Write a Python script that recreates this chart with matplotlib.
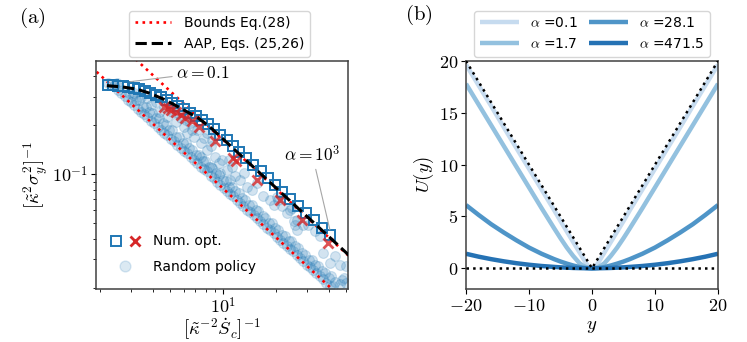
import numpy as np
import matplotlib
matplotlib.use("Agg")
import matplotlib.pyplot as plt
from matplotlib.lines import Line2D
from matplotlib.legend_handler import HandlerTuple
from matplotlib.ticker import FuncFormatter, NullFormatter, FixedLocator

plt.rcParams['font.family'] = ['DejaVu Sans']
plt.rcParams['mathtext.fontset'] = 'cm'

# ---------------- panel (a) data ----------------
aap_x = [2.2, 2.67, 3.25, 3.83, 4.65, 5.35, 6.22, 7.22, 8.41, 10, 12.5, 15, 20, 25, 30, 40, 52]
aap_y = [0.350, 0.344, 0.333, 0.315, 0.288, 0.266, 0.243, 0.222, 0.196, 0.165, 0.132,
         0.110, 0.0825, 0.066, 0.055, 0.0413, 0.0317]

bound_hi_x = [3.0, 56.0]
bound_hi_y = [0.543, 0.0291]
bound_lo_x = [1.8, 45.0]
bound_lo_y = [0.455, 0.0182]

sq_x = [2.24, 2.39, 2.55, 2.72, 2.91, 3.12, 3.35, 3.60, 3.87, 4.16, 4.47, 4.81, 5.18, 5.58,
        6.02, 6.50, 7.02, 7.59, 8.21, 8.90, 9.65, 10.5, 11.4, 12.4, 13.6, 14.9, 16.4, 18.0,
        19.8, 21.8, 24.1, 26.6, 29.5, 32.7, 36.3, 40.3]
sq_y = [0.352, 0.351, 0.349, 0.346, 0.342, 0.338, 0.332, 0.325, 0.316, 0.307, 0.297, 0.286,
        0.274, 0.262, 0.250, 0.238, 0.227, 0.215, 0.203, 0.189, 0.175, 0.162, 0.149, 0.137,
        0.125, 0.114, 0.104, 0.0945, 0.0860, 0.0780, 0.0705, 0.0640, 0.0577, 0.0520,
        0.0469, 0.0422]

cr_x = [4.63, 4.88, 5.07, 5.41, 5.78, 6.08, 6.73, 7.33, 8.98, 11.5, 11.9, 15.6, 21.1, 28.0, 39.6]
cr_y = [0.260, 0.255, 0.248, 0.241, 0.231, 0.221, 0.212, 0.194, 0.161, 0.125, 0.121,
        0.0923, 0.0695, 0.0524, 0.0378]

# random policies: dense band above lower bound
band_x = [2.43, 2.50, 2.65, 2.58, 2.89, 2.95, 3.15, 3.22, 3.08, 3.43, 3.52, 3.36, 3.74, 3.84,
          3.66, 4.08, 4.20, 3.98, 4.45, 4.58, 4.36, 4.85, 4.98, 4.74, 5.29, 5.44, 5.17, 5.77,
          5.93, 5.64, 6.29, 6.46, 6.15, 6.86, 7.05, 6.71, 7.48, 7.69, 7.31, 8.16, 8.39, 7.98,
          8.90, 9.15, 8.70, 9.70, 9.97, 9.48, 10.6, 10.9, 10.4, 11.5, 11.8, 11.3, 12.6, 12.9,
          12.3, 13.7, 14.1, 13.4, 15.0, 15.4, 14.7, 16.3, 16.8, 15.9, 17.8, 18.3, 17.4, 19.4,
          19.9, 19.0, 21.1, 21.7, 20.6, 23.1, 23.7, 22.6, 25.1, 25.8, 24.5, 27.4, 28.2, 26.8,
          29.9, 30.7, 29.2, 32.6, 33.5, 31.9, 35.6, 36.6, 34.8, 38.7, 39.8, 37.8, 42.3, 43.5,
          41.3, 46.1, 47.4, 50.2, 49.0]
band_y = [0.347, 0.365, 0.314, 0.345, 0.286, 0.314, 0.267, 0.286, 0.306, 0.242, 0.260,
          0.286, 0.226, 0.242, 0.260, 0.206, 0.221, 0.237, 0.187, 0.206, 0.221, 0.174, 0.187,
          0.201, 0.159, 0.170, 0.187, 0.145, 0.155, 0.170, 0.135, 0.145, 0.155, 0.123, 0.131,
          0.141, 0.111, 0.120, 0.131, 0.104, 0.111, 0.120, 0.0945, 0.101, 0.109, 0.0860,
          0.0923, 0.0990, 0.0783, 0.0840, 0.0902, 0.0730, 0.0783, 0.0840, 0.0664, 0.0713,
          0.0764, 0.0604, 0.0649, 0.0696, 0.0563, 0.0604, 0.0649, 0.0512, 0.0550, 0.0590,
          0.0466, 0.0500, 0.0537, 0.0435, 0.0466, 0.0500, 0.0396, 0.0425, 0.0455, 0.0360,
          0.0387, 0.0415, 0.0336, 0.0360, 0.0387, 0.0305, 0.0328, 0.0352, 0.0277, 0.0298,
          0.0320, 0.0259, 0.0277, 0.0298, 0.0236, 0.0253, 0.0271, 0.0214, 0.0230, 0.0247,
          0.0205, 0.0219, 0.0236, 0.0210, 0.0225, 0.0214, 0.0230]

# random policies lying right on the lower bound
edge_x = [2.55, 2.78, 3.02, 3.30, 3.59, 3.92, 4.27, 4.66, 5.07, 5.53, 6.03, 6.57, 7.17, 7.81,
          8.52, 9.29, 10.1, 11.0, 12.0, 13.1, 14.3, 15.6, 17.0, 18.5, 20.2, 22.0, 24.0, 26.2,
          28.5, 31.1, 33.9, 37.0, 40.3]
edge_y = [0.328, 0.301, 0.277, 0.253, 0.233, 0.213, 0.196, 0.179, 0.165, 0.151, 0.139, 0.127,
          0.117, 0.107, 0.0981, 0.0900, 0.0828, 0.0760, 0.0697, 0.0638, 0.0585, 0.0536,
          0.0492, 0.0452, 0.0414, 0.0380, 0.0348, 0.0319, 0.0293, 0.0269, 0.0247, 0.0226,
          0.0207]

# random policies: sparser cloud between band and AAP curve
cloud_x = [2.23, 2.43, 3.15, 3.43, 3.74, 3.91, 4.17, 4.35, 4.65, 4.85, 5.18, 5.41, 5.53,
           5.77, 6.02, 6.15, 6.29, 6.56, 6.71, 6.86, 7.16, 7.48, 7.48, 7.81, 8.16, 8.16,
           8.52, 8.52, 8.70, 9.09, 9.50, 9.70, 9.92, 10.6, 10.8, 11.0, 11.3, 11.8, 12.6,
           13.2, 13.7, 14.6, 15.6, 17.0, 18.6, 19.4, 20.3, 20.7, 21.6, 23.1, 24.0, 24.6,
           25.2, 25.7, 26.2, 26.2, 28.6, 30.6, 33.3, 35.6, 36.9, 40.5, 43.2, 46.1, 50.2]
cloud_y = [0.362, 0.352, 0.314, 0.299, 0.292, 0.267, 0.279, 0.242, 0.260, 0.226, 0.242,
           0.210, 0.237, 0.221, 0.196, 0.215, 0.179, 0.206, 0.187, 0.170, 0.187, 0.155,
           0.128, 0.167, 0.141, 0.179, 0.148, 0.111, 0.163, 0.128, 0.117, 0.101, 0.123,
           0.106, 0.123, 0.0923, 0.111, 0.0968, 0.0923, 0.101, 0.0840, 0.0802, 0.0881,
           0.0730, 0.0696, 0.0648, 0.0720, 0.0695, 0.0634, 0.0577, 0.0604, 0.0619, 0.0512,
           0.0487, 0.0455, 0.0525, 0.0489, 0.0490, 0.0445, 0.0415, 0.0330, 0.0284, 0.0313,
           0.0277, 0.0271]

# ---------------- panel (b) data ----------------
y_grid = [-20, -18, -16, -14, -12, -10, -8, -6, -5, -4, -3, -2, -1.5, -1, -0.5, 0,
          0.5, 1, 1.5, 2, 3, 4, 5, 6, 8, 10, 12, 14, 16, 18, 20]
alphas = ['0.1', '1.7', '28.1', '471.5']
U_01 = [19.65, 17.65, 15.65, 13.6, 11.6, 9.6, 7.6, 5.6, 4.55, 3.55, 2.55, 1.55, 1.05, 0.55,
        0.12, 0, 0.12, 0.55, 1.05, 1.55, 2.55, 3.55, 4.55, 5.6, 7.6, 9.6, 11.6, 13.6, 15.65,
        17.65, 19.65]
U_17 = [17.8, 15.8, 13.8, 11.8, 9.8, 7.8, 5.8, 3.85, 2.9, 2.0, 1.2, 0.5, 0.28, 0.12, 0.03, 0,
        0.03, 0.12, 0.28, 0.5, 1.2, 2.0, 2.9, 3.85, 5.8, 7.8, 9.8, 11.8, 13.8, 15.8, 17.8]
U_28 = [6.1, 5.15, 4.25, 3.45, 2.7, 2.0, 1.4, 0.88, 0.65, 0.45, 0.27, 0.12, 0.07, 0.03, 0.01, 0,
        0.01, 0.03, 0.07, 0.12, 0.27, 0.45, 0.65, 0.88, 1.4, 2.0, 2.7, 3.45, 4.25, 5.15, 6.1]
U_471 = [1.4, 1.12, 0.88, 0.67, 0.49, 0.34, 0.22, 0.13, 0.09, 0.06, 0.03, 0.015, 0.008, 0.004,
         0.001, 0, 0.001, 0.004, 0.008, 0.015, 0.03, 0.06, 0.09, 0.13, 0.22, 0.34, 0.49, 0.67,
         0.88, 1.12, 1.4]
U_curves = [U_01, U_17, U_28, U_471]
curve_colors = ['#c6dbef', '#93c1df', '#4f95c8', '#2572b4']
vline_x = [-20, 0, 20]
vline_y = [20, 0, 20]

# ---------------- figure ----------------
fig = plt.figure(figsize=(7.47, 3.42), dpi=100)
axA = fig.add_axes([96/747, 1-289/342, 252/747, 228/342])
axB = fig.add_axes([466/747, 1-289/342, 252/747, 228/342])

C0 = '#1f77b4'
C3 = '#d62728'
TICK_FS = 13
LAB_FS = 13.5

def mathfmt(v, p):
    return r'$%d$' % int(round(v))

def logfmt(v, p):
    e = int(round(np.log10(v)))
    return r'$10^{%d}$' % e

# panel (a)
for xs, ys in ((band_x, band_y), (edge_x, edge_y), (cloud_x, cloud_y)):
    axA.scatter(xs, ys, s=50, color=C0, alpha=0.2, linewidths=0.8, zorder=1)
lb, = axA.plot(bound_hi_x, bound_hi_y, ls=':', color='red', lw=1.9, zorder=2)
axA.plot(bound_lo_x, bound_lo_y, ls=':', color='red', lw=1.9, zorder=2)
axA.plot(sq_x, sq_y, ls='none', marker='s', ms=6.5, mfc='none', mec=C0, mew=1.4, zorder=3)
axA.plot(cr_x, cr_y, ls='none', marker='x', ms=6.8, mec=C3, mew=2.0, alpha=0.8, zorder=4)
la, = axA.plot(aap_x, aap_y, ls='--', color='black', lw=2.2, zorder=5)

axA.set_xscale('log')
axA.set_yscale('log')
axA.set_xlim(1.91, 51.3)
axA.set_ylim(0.0197, 0.496)
axA.xaxis.set_major_formatter(FuncFormatter(logfmt))
axA.yaxis.set_major_formatter(FuncFormatter(logfmt))
axA.xaxis.set_minor_formatter(NullFormatter())
axA.yaxis.set_minor_formatter(NullFormatter())
axA.tick_params(labelsize=TICK_FS, pad=2)
axA.set_xlabel(r'$[\tilde{\kappa}^{-2}\dot{S}_c]^{-1}$', fontsize=LAB_FS, labelpad=-1)
axA.set_ylabel(r'$[\tilde{\kappa}^{2}\sigma_y^2]^{-1}$', fontsize=LAB_FS, labelpad=2)

axA.annotate(r'$\alpha = 0.1$', xy=(2.98, 0.37), xytext=(5.45, 0.42), ha='left', va='center',
             fontsize=12.5, arrowprops=dict(arrowstyle='-', color='0.65', lw=0.8,
                                            shrinkA=1, shrinkB=0))
axA.annotate(r'$\alpha = 10^3$', xy=(40.5, 0.0455), xytext=(22.3, 0.131), ha='left',
             va='center', fontsize=12.5,
             arrowprops=dict(arrowstyle='-', color='0.65', lw=0.8, shrinkA=1, shrinkB=0))

legA = axA.legend([lb, la], ['Bounds Eq.(28)', 'AAP, Eqs. (25,26)'], loc='lower center',
                  bbox_to_anchor=(0.49, 1.0), fontsize=10, handlelength=2.6,
                  borderaxespad=0.3, handletextpad=0.9)
axA.add_artist(legA)

h_sq = Line2D([], [], ls='none', marker='s', ms=6.5, mfc='none', mec=C0, mew=1.4)
h_cr = Line2D([], [], ls='none', marker='x', ms=6.8, mec=C3, mew=2.0)
h_ci = Line2D([], [], ls='none', marker='o', ms=7.8, color=C0, alpha=0.16)
axA.legend([(h_sq, h_cr), h_ci], ['Num. opt.', 'Random policy'], loc='lower left',
           handler_map={tuple: HandlerTuple(ndivide=None, pad=0.3)}, frameon=False,
           fontsize=10, handlelength=2.4, numpoints=1, labelspacing=0.85,
           bbox_to_anchor=(0.0, 0.01))

# panel (b)
for U, a, c in zip(U_curves, alphas, curve_colors):
    axB.plot(y_grid, U, color=c, lw=3.2, label=r'$\alpha$ =' + a, solid_capstyle='butt')
axB.plot(vline_x, vline_y, ls=':', color='black', lw=1.8, zorder=5)
axB.plot([-20, 20], [0, 0], ls=':', color='black', lw=1.8, zorder=5)
axB.set_xlim(-20, 20)
axB.set_ylim(-2, 20)
axB.xaxis.set_major_locator(FixedLocator([-20, -10, 0, 10, 20]))
axB.yaxis.set_major_locator(FixedLocator([0, 5, 10, 15, 20]))
axB.xaxis.set_major_formatter(FuncFormatter(mathfmt))
axB.yaxis.set_major_formatter(FuncFormatter(mathfmt))
axB.tick_params(labelsize=TICK_FS, pad=2)
axB.set_xlabel(r'$y$', fontsize=LAB_FS, labelpad=1)
axB.set_ylabel(r'$U(y)$', fontsize=LAB_FS, labelpad=2)
axB.legend(loc='lower center', bbox_to_anchor=(0.5, 1.0), ncol=2, fontsize=10,
           handlelength=2.8, borderaxespad=0.3, columnspacing=0.8, handletextpad=0.8)

for ax in (axA, axB):
    for s in ax.spines.values():
        s.set_color('0.25')
        s.set_linewidth(1.1)

fig.text(32/747, 1-18/342, r'$\mathrm{(a)}$', fontsize=15, ha='center', va='center')
fig.text(419/747, 1-15/342, r'$\mathrm{(b)}$', fontsize=15, ha='center', va='center')

fig.savefig('out.png', dpi=100)
